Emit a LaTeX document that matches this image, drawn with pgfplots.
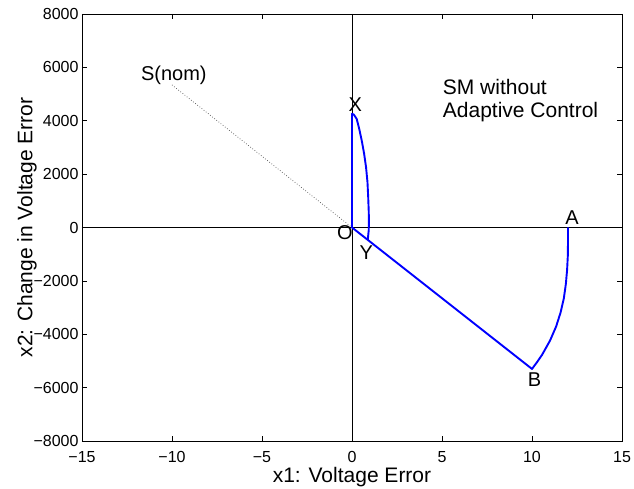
\documentclass[border=0pt]{standalone}
\usepackage{fontspec}
\setmainfont{Liberation Sans}
\usepackage{pgfplots}
\pgfplotsset{compat=1.18}
\definecolor{trajblue}{RGB}{0,0,255}

\begin{document}
\begin{tikzpicture}
\useasboundingbox (-82pt,-48pt) rectangle (552pt,441pt);
\begin{axis}[
  scale only axis, width=540pt, height=427pt,
  xmin=-15, xmax=15, ymin=-8000, ymax=8000,
  xtick={-15,-10,...,15}, ytick={-8000,-6000,...,8000},
  xticklabels={−15,−10,−5,0,5,10,15},
  yticklabels={−8000,−6000,−4000,−2000,0,2000,4000,6000,8000},
  scaled y ticks=false,
  tick align=inside, major tick length=5pt,
  tick style={black, line width=0.6pt},
  axis line style={line width=0.8pt},
  tick label style={font=\fontsize{16}{16}\selectfont},
  xticklabel style={anchor=base, yshift=-21.7pt},
  xlabel={x1: Voltage Error}, ylabel={x2: Change in Voltage Error},
  xlabel style={font=\fontsize{21}{21}\selectfont, at={(axis description cs:0.5,0)}, anchor=base, yshift=-41.7pt},
  ylabel style={font=\fontsize{21}{21}\selectfont, at={(axis description cs:0,0.5)}, anchor=center, yshift=55pt},
  clip=false,
]
% zero lines
\addplot[black, line width=0.6pt] coordinates {(-15,0) (15,0)};
\addplot[black, line width=0.6pt] coordinates {(0,-8000) (0,8000)};
% sliding line extension
\addplot[black!70, dotted, line width=0.7pt] coordinates {(-10,5340) (0,0)};
% trajectory
\addplot[trajblue, line width=1.9pt, line join=round] coordinates {
  (12,0) (12,-530) (11.99,-1060) (11.95,-1590) (11.88,-2120) (11.77,-2650)
  (11.59,-3180) (11.34,-3710) (11.0,-4240) (10.56,-4770) (10.29,-5035) (10,-5300)
  (0,0) (0,4260) (0.1,4230) (0.26,4070) (0.4,3700) (0.54,3260) (0.67,2780)
  (0.78,2260) (0.86,1700) (0.9,1135) (0.93,600) (0.94,262) (0.93,-100)
  (0.9,-300) (0.88,-465) (0,0)
};
\node[font=\fontsize{20}{20}\selectfont] at (axis cs:-9.9,5684) {S(nom)};
\node[font=\fontsize{20}{20}\selectfont] at (axis cs:0.18,4610) {X};
\node[font=\fontsize{20}{20}\selectfont] at (axis cs:-0.39,-176) {O};
\node[font=\fontsize{20}{20}\selectfont] at (axis cs:0.8,-925) {Y};
\node[font=\fontsize{20}{20}\selectfont] at (axis cs:12.23,386) {A};
\node[font=\fontsize{20}{20}\selectfont] at (axis cs:10.14,-5714) {B};
\node[font=\fontsize{21}{21}\selectfont, anchor=base west, inner sep=0pt] at (axis cs:5.04,4983) {SM without};
\node[font=\fontsize{21}{21}\selectfont, anchor=base west, inner sep=0pt] at (axis cs:5.04,4133) {Adaptive Control};
\end{axis}
\end{tikzpicture}
\end{document}
